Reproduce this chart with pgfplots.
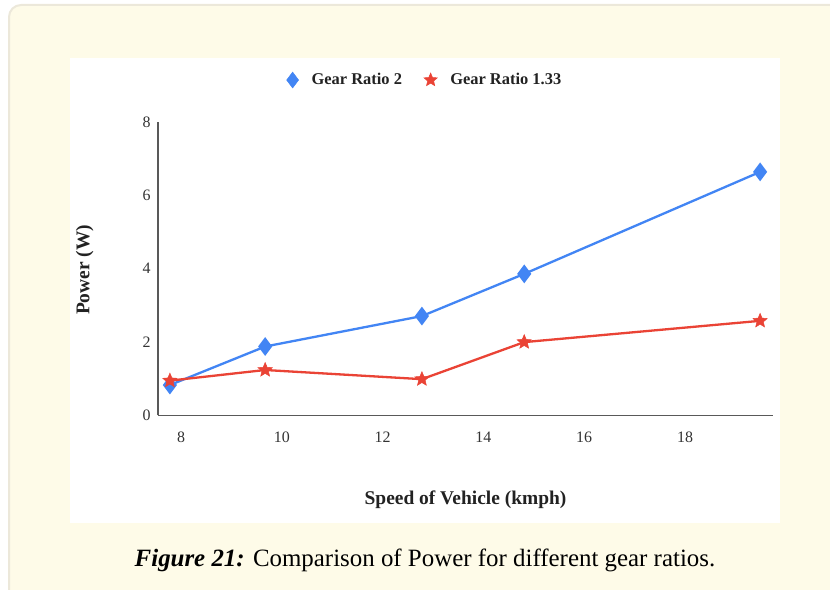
\documentclass[border=0pt]{standalone}
\usepackage{fontspec}
\setmainfont{Liberation Serif}
\usepackage{pgfplots}
\pgfplotsset{compat=1.18}
\definecolor{gblue}{HTML}{4285F4}
\definecolor{gred}{HTML}{EA4335}
\definecolor{cream}{HTML}{FEFBE8}
\definecolor{bord}{HTML}{ECE8DA}
\definecolor{txt}{HTML}{222222}
\pgfdeclareplotmark{fstar}{%
  \pgfpathmoveto{\pgfpointpolar{90}{\pgfplotmarksize}}%
  \pgfpathlineto{\pgfpointpolar{126}{0.45\pgfplotmarksize}}%
  \pgfpathlineto{\pgfpointpolar{162}{\pgfplotmarksize}}%
  \pgfpathlineto{\pgfpointpolar{198}{0.45\pgfplotmarksize}}%
  \pgfpathlineto{\pgfpointpolar{234}{\pgfplotmarksize}}%
  \pgfpathlineto{\pgfpointpolar{270}{0.45\pgfplotmarksize}}%
  \pgfpathlineto{\pgfpointpolar{306}{\pgfplotmarksize}}%
  \pgfpathlineto{\pgfpointpolar{342}{0.45\pgfplotmarksize}}%
  \pgfpathlineto{\pgfpointpolar{18}{\pgfplotmarksize}}%
  \pgfpathlineto{\pgfpointpolar{54}{0.45\pgfplotmarksize}}%
  \pgfpathclose
  \pgfusepathqfillstroke}
\begin{document}
\begin{tikzpicture}[x=1bp,y=1bp]
\path[use as bounding box] (0,0) rectangle (830,590);
\begin{scope}
\clip (0,0) rectangle (830,590);
\draw[bord, line width=2bp, fill=cream, rounded corners=12bp] (9,-30) rectangle (860,585);
\end{scope}
\fill[white] (70,67) rectangle (780,532);
\begin{axis}[
  at={(158bp,174.5bp)}, anchor=south west,
  scale only axis, width=615bp, height=293.5bp,
  xmin=7.544, xmax=19.746, ymin=0, ymax=8,
  axis lines*=left,
  axis line style={draw=black!65, line width=1.3bp},
  major tick length=0pt,
  xtick={8,10,...,18}, ytick={0,2,...,8},
  /pgf/number format/assume math mode=true,
  tick label style={font=\fontsize{16}{18}\selectfont, text=black!80},
  xticklabel style={yshift=-13bp},
  yticklabel style={xshift=-4bp},
  xlabel={\textbf{Speed of Vehicle (kmph)}},
  ylabel={\textbf{Power (W)}},
  label style={font=\fontsize{19.5}{22}\selectfont, text=txt},
  xlabel style={at={(rel axis cs:0.5,-0.288)}, anchor=center},
  ylabel style={at={(rel axis cs:-0.119,0.496)}, anchor=center, rotate=0},
  legend style={at={(rel axis cs:0.434,1.143)}, anchor=center, draw=none, fill=none,
    legend columns=2, font=\fontsize{16.5}{18}\selectfont\bfseries, text=txt,
    /tikz/every even column/.append style={column sep=20bp},
    /tikz/every odd column/.append style={column sep=11bp}},
  legend image code/.code={\draw[#1] plot coordinates {(0.25cm,0cm)};},
  clip=false,
]
\addlegendimage{only marks, mark=diamond*, mark size=8bp, color=gblue}
\addlegendentry{Gear Ratio 2}
\addlegendimage{only marks, mark=fstar, mark size=7bp, color=gred, mark options={fill=gred, line width=0.5bp}}
\addlegendentry{Gear Ratio 1.33}
\addplot[forget plot, gblue, line width=2.3bp, mark=diamond*, mark size=7.5bp] coordinates {
(7.78,0.83) (9.67,1.88) (12.78,2.71) (14.81,3.86) (19.49,6.64)};
\addplot[forget plot, gred, line width=2.3bp, mark=fstar, mark size=7.5bp, mark options={fill=gred, line width=0.5bp}] coordinates {
(7.78,0.95) (9.67,1.24) (12.78,0.99) (14.81,2.00) (19.49,2.58)};
\end{axis}
\node[text=black, anchor=center] at (425,30) {\fontsize{25}{28}\selectfont\textbf{\textit{Figure 21:}} Comparison of Power for different gear ratios.};
\end{tikzpicture}
\end{document}
